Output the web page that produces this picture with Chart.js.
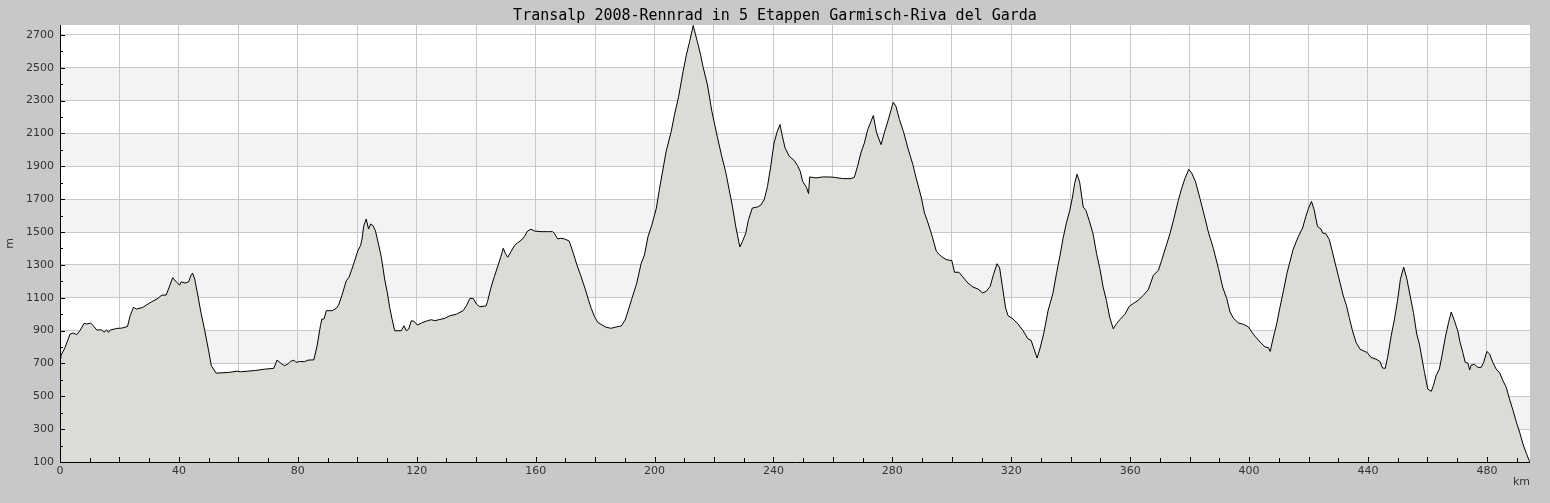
<!DOCTYPE html>
<html>
<head>
<meta charset="utf-8">
<title>Transalp 2008</title>
<script src="https://cdn.jsdelivr.net/npm/chart.js@4.4.1/dist/chart.umd.min.js"></script>
<style>
  html, body { margin: 0; padding: 0; background: #c8c8c8; }
  #wrap { width: 1550px; height: 503px; }
</style>
</head>
<body>
<div id="wrap"><canvas id="profileChart"></canvas></div>
<script>
'use strict';

// distance along the route (km)
const distKm = [
  0, 0.3, 1.7, 3.4, 4.5, 5.6, 6.7, 8.1, 9.0, 10.3, 11.2, 12.4, 14.0, 14.8, 15.7, 16.3, 16.9, 19.1, 20.8, 22.7,
  23.6, 24.7, 25.8, 27.8, 29.2, 30.9, 32.6, 34.3, 35.7, 36.5, 37.9, 39.3, 40.2, 40.8, 42.1, 43.3, 44.0, 44.6, 45.3, 46.3,
  47.4, 48.7, 50.0, 50.9, 52.5, 56.7, 59.6, 60.7, 65.7, 68.8, 71.9, 73.0, 74.4, 75.5, 76.6, 77.5, 78.7, 79.4, 80.6, 82.2,
  83.4, 85.4, 86.5, 87.6, 88.1, 88.8, 89.6, 90.7, 91.6, 92.9, 93.7, 94.8, 96.3, 97.2, 98.2, 99.3, 100.2, 101.1, 101.6, 102.2,
  103.0, 103.8, 104.5, 105.3, 106.1, 107.0, 108.1, 109.2, 110.1, 110.9, 111.7, 112.6, 114.8, 115.7, 116.5, 117.3, 118.2, 119.1, 120.2, 121.6,
  123.6, 124.9, 126.1, 127.4, 129.4, 131.1, 133.4, 135.6, 136.7, 137.9, 139.0, 140.1, 141.2, 143.3, 143.8, 144.9, 146.1, 147.4, 148.3, 149.1,
  149.8, 150.6, 151.7, 152.8, 154.0, 155.3, 156.2, 157.3, 158.4, 159.6, 161.8, 164.0, 165.7, 166.3, 167.4, 168.5, 169.7, 171.3, 172.5, 173.9,
  175.3, 176.6, 177.8, 178.7, 179.8, 180.9, 182.0, 183.7, 185.4, 187.6, 188.8, 190.1, 191.2, 192.4, 194.0, 195.5, 196.6, 197.8, 199.1, 200.6,
  201.7, 202.8, 203.9, 205.6, 206.7, 208.1, 209.6, 210.7, 211.8, 213.0, 214.4, 215.5, 216.3, 217.8, 219.3, 221.1, 222.5, 224.0, 225.1, 226.2,
  227.3, 228.7, 229.6, 230.7, 231.6, 232.9, 234.6, 235.7, 236.9, 238.0, 239.1, 240.2, 241.3, 242.2, 243.0, 243.9, 245.3, 247.0, 248.1, 249.0,
  249.8, 251.1, 251.8, 252.2, 254.3, 256.5, 258.8, 260.4, 263.3, 266.1, 267.2, 268.3, 269.4, 270.6, 271.7, 273.6, 274.7, 276.2, 277.3, 278.8,
  280.3, 281.2, 282.4, 283.7, 285.2, 286.9, 288.0, 289.7, 290.8, 292.0, 293.4, 294.8, 296.4, 298.1, 300.0, 300.9, 302.4, 303.7, 305.4, 307.1,
  308.8, 310.4, 311.6, 312.9, 314.0, 315.2, 316.1, 317.0, 318.1, 318.9, 320.6, 322.2, 323.9, 325.6, 326.7, 327.6, 328.7, 329.8, 330.9, 332.4,
  334.0, 335.2, 336.3, 337.4, 338.5, 339.7, 340.6, 341.3, 342.1, 343.0, 344.2, 345.1, 346.2, 347.5, 348.7, 349.8, 350.9, 352.0, 353.1, 354.3,
  355.4, 356.5, 358.2, 359.7, 361.0, 362.7, 364.4, 366.1, 367.8, 369.5, 370.6, 372.0, 373.4, 374.7, 376.2, 377.3, 378.4, 379.7, 380.7, 382.0,
  383.5, 385.2, 386.3, 388.0, 389.7, 391.1, 392.5, 393.6, 394.7, 396.4, 398.1, 399.8, 400.9, 402.0, 403.7, 405.4, 406.5, 407.1, 408.2, 409.3,
  410.4, 411.6, 412.7, 414.8, 416.6, 418.0, 419.1, 420.0, 421.0, 421.9, 423.0, 424.2, 424.7, 425.8, 427.0, 428.1, 429.2, 430.6, 431.7, 432.8,
  433.7, 434.8, 436.0, 437.3, 438.4, 439.7, 441.0, 442.7, 444.0, 444.9, 445.8, 446.6, 447.8, 448.9, 450.0, 450.9, 452.0, 453.0, 454.2, 455.3,
  456.4, 457.3, 458.2, 459.0, 460.1, 461.3, 462.0, 462.9, 464.0, 464.9, 466.0, 467.1, 468.0, 469.1, 470.2, 471.0, 471.9, 472.7, 473.6, 474.2,
  474.7, 475.8, 477.0, 478.1, 478.9, 480.0, 480.9, 482.0, 483.1, 484.3, 485.4, 486.5, 487.6, 488.8, 489.9, 491.0, 492.1, 493.3, 494.2, 494.5
];

// elevation (m)
const elevM = [
  730, 747, 797, 879, 885, 875, 899, 944, 940, 946, 929, 903, 905, 889, 905, 889, 903, 913, 915, 925,
  990, 1041, 1031, 1041, 1057, 1076, 1092, 1116, 1116, 1153, 1222, 1193, 1177, 1197, 1189, 1197, 1234, 1250, 1214, 1122,
  1011, 899, 777, 686, 641, 645, 653, 649, 657, 665, 670, 720, 700, 686, 696, 712, 720, 706, 712, 710,
  720, 722, 808, 929, 970, 970, 1021, 1021, 1021, 1035, 1055, 1112, 1203, 1224, 1274, 1335, 1386, 1417, 1457, 1538,
  1579, 1518, 1549, 1538, 1508, 1437, 1346, 1214, 1132, 1041, 970, 899, 899, 929, 899, 909, 960, 956, 933, 946,
  960, 966, 960, 966, 974, 990, 1000, 1021, 1051, 1096, 1096, 1061, 1045, 1050, 1076, 1157, 1228, 1299, 1350, 1401,
  1370, 1346, 1380, 1415, 1435, 1452, 1472, 1506, 1517, 1506, 1502, 1502, 1502, 1492, 1458, 1462, 1458, 1445, 1380, 1299,
  1228, 1157, 1086, 1035, 985, 950, 938, 920, 914, 924, 928, 964, 1025, 1096, 1188, 1309, 1360, 1472, 1543, 1644,
  1766, 1878, 1990, 2111, 2213, 2324, 2477, 2578, 2659, 2757, 2659, 2578, 2507, 2395, 2233, 2081, 1969, 1860, 1758, 1656,
  1535, 1409, 1443, 1494, 1575, 1646, 1652, 1663, 1697, 1778, 1900, 2042, 2113, 2154, 2083, 2012, 1961, 1935, 1904, 1870,
  1809, 1772, 1734, 1835, 1829, 1835, 1835, 1833, 1825, 1825, 1833, 1900, 1981, 2042, 2123, 2209, 2103, 2032, 2103, 2194,
  2290, 2265, 2184, 2113, 2012, 1910, 1829, 1713, 1616, 1555, 1474, 1382, 1352, 1332, 1326, 1255, 1255, 1226, 1190, 1165,
  1153, 1129, 1139, 1169, 1240, 1307, 1281, 1169, 1037, 991, 970, 942, 901, 850, 840, 790, 733, 800, 881, 1023,
  1125, 1246, 1348, 1459, 1551, 1632, 1713, 1794, 1851, 1805, 1652, 1632, 1571, 1490, 1368, 1277, 1165, 1084, 982, 911,
  942, 966, 999, 1047, 1064, 1084, 1114, 1149, 1236, 1267, 1328, 1409, 1490, 1581, 1693, 1764, 1825, 1880, 1859, 1805,
  1703, 1581, 1500, 1399, 1277, 1165, 1094, 1013, 976, 946, 938, 922, 891, 865, 830, 800, 796, 773, 861, 942,
  1043, 1145, 1246, 1393, 1474, 1524, 1595, 1645, 1686, 1635, 1534, 1518, 1494, 1490, 1454, 1373, 1292, 1191, 1110, 1050,
  979, 898, 827, 787, 777, 767, 736, 726, 712, 672, 670, 736, 868, 969, 1090, 1211, 1286, 1221, 1110, 1009,
  878, 817, 726, 646, 544, 530, 565, 625, 666, 747, 858, 949, 1013, 959, 898, 827, 767, 706, 702, 660,
  690, 694, 676, 676, 706, 773, 757, 706, 666, 642, 595, 555, 484, 413, 343, 282, 211, 151, 110, 100
];

// axis limits and labelling
const xMax = 494.5;
const yMin = 100;
const yMax = 2760;
const xLabelStep = 40;
const xGridStep = 20;
const yLabelStep = 200;

const chartTitle = 'Transalp 2008-Rennrad in 5 Etappen Garmisch-Riva del Garda';

const bgColor = '#c8c8c8';
const gridColor = '#c8c8c8';
const bandColor = '#f3f2f5';
const fillColor = '#dcdbd6';
const labelColor = '#333333';

// page background, white plot area and alternating horizontal bands
const backdropPlugin = {
  id: 'backdrop',
  beforeDraw(chart) {
    const { ctx, chartArea: a, scales: { y } } = chart;
    ctx.save();
    ctx.fillStyle = bgColor;
    ctx.fillRect(0, 0, chart.width, chart.height);
    ctx.fillStyle = '#ffffff';
    ctx.fillRect(a.left, a.top, a.right - a.left, a.bottom - a.top);
    ctx.fillStyle = bandColor;
    for (let v = yMin + yLabelStep; v + yLabelStep <= yMax; v += 2 * yLabelStep) {
      const top = y.getPixelForValue(v + yLabelStep);
      const bot = y.getPixelForValue(v);
      ctx.fillRect(a.left, top, a.right - a.left, bot - top);
    }
    ctx.restore();
  }
};

// axis lines and inward tick marks, drawn on top of the fill
const axisTicksPlugin = {
  id: 'axisTicks',
  afterDatasetsDraw(chart) {
    const { ctx, chartArea: a, scales: { x, y } } = chart;
    ctx.save();
    ctx.strokeStyle = '#000000';
    ctx.lineWidth = 1;
    ctx.beginPath();
    ctx.moveTo(a.left + 0.5, a.top);
    ctx.lineTo(a.left + 0.5, a.bottom + 0.5);
    ctx.lineTo(a.right, a.bottom + 0.5);
    for (let v = yMin; v <= yMax; v += 100) {
      const py = Math.round(y.getPixelForValue(v)) + 0.5;
      const len = (v - yMin) % yLabelStep === 0 ? 5 : 3;
      ctx.moveTo(a.left, py);
      ctx.lineTo(a.left + len, py);
    }
    for (let v = 0; v <= xMax; v += 10) {
      const px = Math.round(x.getPixelForValue(v)) + 0.5;
      const len = v % xGridStep === 0 ? 5 : 4;
      ctx.moveTo(px, a.bottom);
      ctx.lineTo(px, a.bottom - len);
    }
    ctx.stroke();
    ctx.restore();
  }
};

document.addEventListener('DOMContentLoaded', function () {
  const ctx = document.getElementById('profileChart').getContext('2d');
  const points = distKm.map((d, i) => ({ x: d, y: elevM[i] }));

  new Chart(ctx, {
    type: 'line',
    data: {
      datasets: [{
        data: points,
        borderColor: '#000000',
        borderWidth: 1,
        backgroundColor: fillColor,
        fill: 'start',
        pointRadius: 0,
        tension: 0
      }]
    },
    options: {
      responsive: true,
      maintainAspectRatio: false,
      animation: false,
      layout: { padding: 0 },
      plugins: {
        legend: { display: false },
        tooltip: { enabled: false },
        title: {
          display: true,
          text: chartTitle,
          color: '#000000',
          font: { family: 'DejaVu Sans Mono', size: 15, weight: 'normal', lineHeight: 1.2 },
          padding: { top: 7, bottom: 0 }
        }
      },
      scales: {
        x: {
          type: 'linear',
          min: 0,
          max: xMax,
          afterFit(scale) {
            scale.height = 41;
            scale.paddingRight = 20; // gray margin right of the plot
          },
          border: { display: false },
          grid: {
            drawTicks: false,
            color: c => (c.tick && c.tick.value % xGridStep === 0 ? gridColor : 'rgba(0,0,0,0)')
          },
          ticks: {
            stepSize: 10,
            includeBounds: false,
            autoSkip: false,
            maxRotation: 0,
            padding: 3,
            color: labelColor,
            font: { family: 'DejaVu Sans', size: 11 },
            callback: v => (v % xLabelStep === 0 ? String(v) : '')
          },
          title: {
            display: true,
            text: 'km',
            align: 'end',
            color: labelColor,
            font: { family: 'DejaVu Sans', size: 11 },
            padding: { top: 0, bottom: 14 }
          }
        },
        y: {
          type: 'linear',
          min: yMin,
          max: yMax,
          afterFit(scale) { scale.width = 60; },
          border: { display: false },
          grid: {
            drawTicks: false,
            color: c => (c.tick && c.tick.value > yMin && (c.tick.value - yMin) % yLabelStep === 0 ? gridColor : 'rgba(0,0,0,0)')
          },
          ticks: {
            stepSize: 100,
            includeBounds: false,
            autoSkip: false,
            padding: 6,
            color: labelColor,
            font: { family: 'DejaVu Sans', size: 11 },
            callback: v => ((v - yMin) % yLabelStep === 0 ? String(v) : '')
          },
          title: {
            display: true,
            text: 'm',
            color: labelColor,
            font: { family: 'DejaVu Sans', size: 11 },
            padding: { top: 4, bottom: 0 }
          }
        }
      }
    },
    plugins: [backdropPlugin, axisTicksPlugin]
  });
});
</script>
</body>
</html>
